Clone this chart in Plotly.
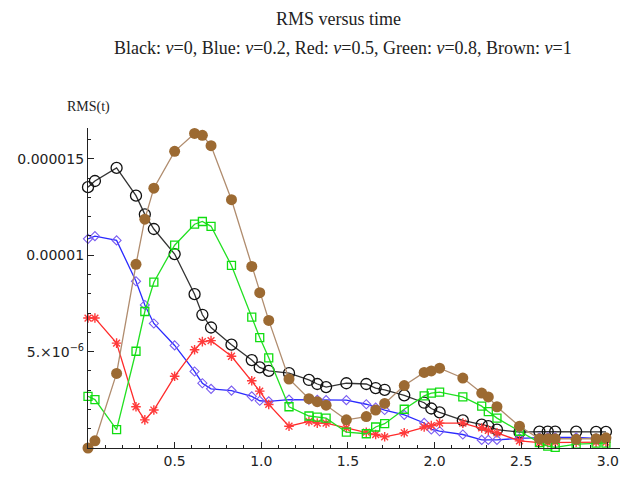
import plotly.graph_objects as go

# time grid (shared by all series)
t = [0.0, 0.04, 0.165, 0.277, 0.328, 0.38, 0.5, 0.615, 0.66, 0.71, 0.828, 0.945,
     0.991, 1.043, 1.16, 1.275, 1.323, 1.374, 1.491, 1.606, 1.66, 1.712, 1.825,
     1.94, 1.981, 2.029, 2.163, 2.272, 2.31, 2.36, 2.49, 2.605, 2.653, 2.696,
     2.817, 2.932, 2.989]

# RMS values in units of 1e-6
black = [13.53, 13.85, 14.53, 13.09, 12.12, 11.36, 10.06, 7.98, 6.91, 6.25, 5.36, 4.56,
         4.18, 4.0, 3.88, 3.53, 3.32, 3.16, 3.36, 3.32, 3.11, 3.02, 2.73,
         2.35, 2.05, 1.85, 1.43, 1.21, 1.13, 0.95, 0.82, 0.85, 0.85, 0.85,
         0.85, 0.84, 0.84]
blue = [10.85, 10.99, 10.77, 8.65, 7.42, 6.46, 5.32, 3.97, 3.36, 3.07, 2.98, 2.68,
        2.45, 2.42, 2.51, 2.51, 2.5, 2.48, 2.48, 2.27, 2.1, 1.97, 1.72,
        1.3, 0.96, 0.87, 0.70, 0.42, 0.42, 0.42, 0.5, 0.55, 0.55, 0.55,
        0.55, 0.5, 0.5]
red = [6.74, 6.74, 5.44, 2.14, 1.46, 1.97, 3.72, 5.10, 5.52, 5.57, 4.76, 3.49,
       2.95, 2.26, 1.13, 1.38, 1.29, 1.29, 1.04, 0.82, 0.70, 0.58, 0.79,
       1.09, 1.16, 1.29, 1.29, 1.04, 0.92, 0.79, 0.37, 0.28, 0.28, 0.3,
       0.3, 0.3, 0.3]
green = [2.68, 2.51, 0.95, 5.02, 7.08, 8.6, 10.52, 11.61, 11.75, 11.50, 9.47, 6.79,
         5.73, 4.68, 2.14, 1.66, 1.60, 1.55, 0.82, 0.74, 1.09, 1.26, 2.01,
         2.70, 2.85, 2.90, 2.65, 2.17, 1.89, 1.55, 0.87, 0.28, 0.1, 0.03,
         0.2, 0.25, 0.25]
brown = [0.0, 0.37, 3.87, 9.53, 11.87, 13.48, 15.39, 16.32, 16.22, 15.68, 12.88, 9.42,
         8.06, 6.62, 3.58, 2.56, 2.40, 2.22, 1.46, 1.63, 1.97, 2.31, 3.24,
         3.92, 4.0, 4.14, 3.63, 2.85, 2.65, 2.14, 1.13, 0.48, 0.48, 0.48,
         0.45, 0.48, 0.53]

x_ticks = [0.5, 1.0, 1.5, 2.0, 2.5, 3.0]
x_tick_text = ["0.5", "1.0", "1.5", "2.0", "2.5", "3.0"]
y_ticks = [5e-6, 10e-6, 15e-6]
y_tick_text = ["5.×10<sup>−6</sup>", "0.00001", "0.000015"]

scale = 1e-6
series = [
    ("Black", black, "#333333", dict(symbol="circle-open", size=11, color="#111111", line=dict(width=1.3))),
    ("Blue", blue, "#2a2aff", dict(symbol="diamond-open", size=7, color="#7a5cf0", line=dict(width=1.1))),
    ("Red", red, "#ff2a2a", dict(symbol="asterisk-open", size=8, color="#ff3b3b", line=dict(width=1.4))),
    ("Green", green, "#22e022", dict(symbol="square-open", size=8, color="#11dd11", line=dict(width=1.3))),
    ("Brown", brown, "#b08c6e", dict(symbol="circle", size=11, color="#9c6a32", line=dict(width=0))),
]

fig = go.Figure()
for name, vals, lc, mk in series:
    fig.add_trace(go.Scatter(
        x=t, y=[v * scale for v in vals], mode="lines+markers", name=name,
        line=dict(color=lc, width=1.3), marker=mk, cliponaxis=False,
    ))

fig.update_layout(
    width=631, height=480,
    margin=dict(l=88, r=11, t=128, b=25),
    paper_bgcolor="white", plot_bgcolor="white",
    showlegend=False,
    font=dict(family="DejaVu Sans", size=14, color="#222222"),
)
fig.update_xaxes(
    range=[0, 3.07], showgrid=False, zeroline=False,
    showline=True, linecolor="#222222", linewidth=1.2,
    tickvals=x_ticks, ticktext=x_tick_text,
    ticks="inside", ticklen=6, tickcolor="#222222", tickwidth=1,
    minor=dict(tickvals=[round(0.1 * i, 1) for i in range(1, 31)], ticks="inside",
               ticklen=3, tickcolor="#222222", tickwidth=1, showgrid=False),
    tickfont=dict(family="DejaVu Sans", size=14, color="#222222"),
)
fig.update_yaxes(
    range=[0, 16.6e-6], showgrid=False, zeroline=False,
    showline=True, linecolor="#222222", linewidth=1.2,
    tickvals=y_ticks, ticktext=y_tick_text,
    ticks="inside", ticklen=6, tickcolor="#222222", tickwidth=1,
    minor=dict(tickvals=[i * 1e-6 for i in range(1, 17)], ticks="inside",
               ticklen=3, tickcolor="#222222", tickwidth=1, showgrid=False),
    tickfont=dict(family="DejaVu Sans", size=14, color="#222222"),
)

fig.add_annotation(text="RMS versus time", xref="paper", yref="paper",
                   x=(338 - 88) / 532, y=1 + (128 - 17) / 327, showarrow=False,
                   xanchor="center", yanchor="middle",
                   font=dict(family="Liberation Serif", size=18, color="#222222"))
fig.add_annotation(text="Black: <i>ν</i>=0, Blue: <i>ν</i>=0.2, Red: <i>ν</i>=0.5, Green: <i>ν</i>=0.8, Brown: <i>ν</i>=1",
                   xref="paper", yref="paper",
                   x=(343 - 88) / 532, y=1 + (128 - 46) / 327, showarrow=False,
                   xanchor="center", yanchor="middle",
                   font=dict(family="Liberation Serif", size=18, color="#222222"))
fig.add_annotation(text="RMS(t)", xref="paper", yref="paper",
                   x=0, y=1 + (128 - 107) / 327, showarrow=False,
                   xanchor="center", yanchor="middle",
                   font=dict(family="Liberation Serif", size=14, color="#222222"))

fig.write_html("out.html")
